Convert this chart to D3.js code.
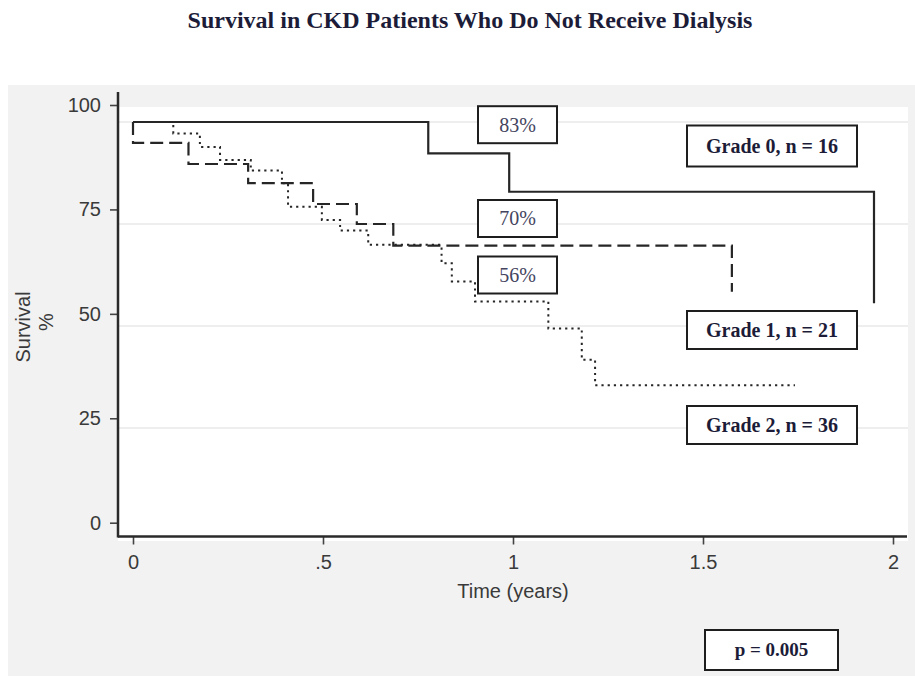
<!DOCTYPE html>
<html>
<head>
<meta charset="utf-8">
<script src="https://cdn.jsdelivr.net/npm/d3@7"></script>
<style>
  html, body { margin: 0; padding: 0; background: #ffffff; }
  svg { display: block; }
</style>
</head>
<body>
<svg id="chart" width="915" height="677"></svg>
<script>
// Kaplan–Meier step data: event times (years) and survival (%)
const grade0Time = [0, 0.777, 0.990, 1.950];
const grade0Surv = [100, 92.3, 82.9, 55.6];

const grade1Time = [0, 0, 0.146, 0.303, 0.474, 0.589, 0.685, 1.576];
const grade1Surv = [100, 94.9, 89.7, 85.0, 79.9, 75.0, 69.7, 58.4];

const grade2Time = [0, 0.106, 0.176, 0.229, 0.310, 0.392, 0.408, 0.497, 0.545,
                    0.619, 0.812, 0.839, 0.900, 1.093, 1.181, 1.216, 1.742];
const grade2Surv = [100, 97.2, 93.9, 90.7, 88.1, 85.0, 79.2, 76.0, 73.4,
                    69.9, 65.4, 60.9, 56.0, 49.4, 41.7, 35.5, 35.5];

const groupNames = ["Grade 0", "Grade 1", "Grade 2"];
const groupN = [16, 21, 36];

const xTicks = [0, 0.5, 1, 1.5, 2];
const xTickLabels = ["0", ".5", "1", "1.5", "2"];
const yTicks = [0, 25, 50, 75, 100];
const gridValues = [25, 50, 75, 100];

const titleText = "Survival in CKD Patients Who Do Not Receive Dialysis";
const xTitle = "Time (years)";
const yTitleLines = ["Survival", "%"];
const pValue = "0.005";
const landmarkYear = 1;

// ---- layout ----
const svg = d3.select("#chart");
const SERIF = "'Liberation Serif', 'Times New Roman', serif";
const SANS = "'Liberation Sans', Arial, sans-serif";

const x = d3.scaleLinear().domain([0, 2]).range([133, 893]);
// curves and grid
const y = d3.scaleLinear().domain([0, 100]).range([530, 122]);
// labelled axis
const yAxisScale = d3.scaleLinear().domain([0, 100]).range([522.7, 105]);

const plotLeft = 118, plotRight = 908, plotTop = 107, axisY = 536.5;

// graph region and plot region backgrounds
svg.append("rect").attr("x", 8).attr("y", 85).attr("width", 907).attr("height", 591)
  .attr("fill", "#f2f2f2");
svg.append("rect").attr("x", plotLeft).attr("y", plotTop)
  .attr("width", plotRight - plotLeft).attr("height", 541 - plotTop)
  .attr("fill", "#ffffff");

// title
svg.append("text")
  .attr("x", 470).attr("y", 28)
  .attr("text-anchor", "middle")
  .attr("font-family", SERIF).attr("font-weight", "bold").attr("font-size", 24)
  .attr("fill", "#1c1c38")
  .text(titleText);

// horizontal grid lines
svg.append("g").selectAll("line").data(gridValues).join("line")
  .attr("x1", plotLeft).attr("x2", plotRight)
  .attr("y1", d => y(d)).attr("y2", d => y(d))
  .attr("stroke", "#e9e9e9").attr("stroke-width", 1.5);

// y axis
const yAxisG = svg.append("g").attr("transform", `translate(${plotLeft},0)`)
  .call(d3.axisLeft(yAxisScale).tickValues(yTicks).tickSize(8).tickPadding(9)
    .tickFormat(d3.format("d")));
yAxisG.select(".domain").remove();
yAxisG.selectAll(".tick line").attr("stroke", "#444").attr("stroke-width", 1.6);
yAxisG.selectAll(".tick text")
  .attr("font-family", SANS).attr("font-size", 20).attr("fill", "#3a3a3a");

// x axis
const xAxisG = svg.append("g").attr("transform", `translate(0,${axisY})`)
  .call(d3.axisBottom(x).tickValues(xTicks).tickSize(8).tickPadding(10)
    .tickFormat((d, i) => xTickLabels[i]));
xAxisG.select(".domain").remove();
xAxisG.selectAll(".tick line").attr("stroke", "#444").attr("stroke-width", 1.6);
xAxisG.selectAll(".tick text")
  .attr("font-family", SANS).attr("font-size", 20).attr("fill", "#3a3a3a");

// axis lines
svg.append("line").attr("x1", plotLeft).attr("x2", plotLeft)
  .attr("y1", 92).attr("y2", axisY + 1)
  .attr("stroke", "#2a2a2a").attr("stroke-width", 2.5);
svg.append("line").attr("x1", plotLeft).attr("x2", 907)
  .attr("y1", axisY).attr("y2", axisY)
  .attr("stroke", "#2a2a2a").attr("stroke-width", 2.5);

// axis titles
svg.append("text")
  .attr("x", 513).attr("y", 598)
  .attr("text-anchor", "middle")
  .attr("font-family", SANS).attr("font-size", 20).attr("fill", "#3a3a3a")
  .text(xTitle);

const yTitle = svg.append("g");
yTitle.append("text")
  .attr("transform", "translate(30,327) rotate(-90)")
  .attr("text-anchor", "middle")
  .attr("font-family", SANS).attr("font-size", 20).attr("fill", "#3a3a3a")
  .text(yTitleLines[0]);
yTitle.append("text")
  .attr("transform", "translate(53,322) rotate(-90)")
  .attr("text-anchor", "middle")
  .attr("font-family", SANS).attr("font-size", 20).attr("fill", "#3a3a3a")
  .text(yTitleLines[1]);

// survival curves
const stepLine = d3.line()
  .x(d => x(d[0])).y(d => y(d[1]))
  .curve(d3.curveStepAfter);

const series = [
  { time: grade0Time, surv: grade0Surv, dash: null, width: 2.2 },
  { time: grade1Time, surv: grade1Surv, dash: "13,6", width: 2.2 },
  { time: grade2Time, surv: grade2Surv, dash: "2.2,4", width: 2 }
];

svg.append("g").selectAll("path").data(series).join("path")
  .attr("d", s => stepLine(s.time.map((t, i) => [t, s.surv[i]])))
  .attr("fill", "none")
  .attr("stroke", "#262626")
  .attr("stroke-width", s => s.width)
  .attr("stroke-dasharray", s => s.dash);

// survival at the landmark year from the step function
function survivalAt(times, survs, t) {
  let v = survs[0];
  for (let i = 0; i < times.length; i++) if (times[i] <= t) v = survs[i];
  return v;
}

function box(cx, cy, w, h, label, opts) {
  const g = svg.append("g");
  g.append("rect")
    .attr("x", cx - w / 2).attr("y", cy - h / 2)
    .attr("width", w).attr("height", h)
    .attr("fill", "#ffffff").attr("stroke", "#1e1e1e").attr("stroke-width", 2);
  g.append("text")
    .attr("x", cx).attr("y", cy).attr("dy", "0.34em")
    .attr("text-anchor", "middle")
    .attr("font-family", SERIF)
    .attr("font-weight", opts.bold ? "bold" : "normal")
    .attr("font-size", opts.size)
    .attr("fill", opts.color)
    .text(label);
}

// landmark percentage boxes
const pctFormat = v => d3.format(".0f")(v) + "%";
const pctBoxes = [
  { time: grade0Time, surv: grade0Surv, cy: 124.7 },
  { time: grade1Time, surv: grade1Surv, cy: 218.5 },
  { time: grade2Time, surv: grade2Surv, cy: 275 }
];
pctBoxes.forEach(b => {
  box(517.5, b.cy, 79, 37,
      pctFormat(survivalAt(b.time, b.surv, landmarkYear)),
      { bold: false, size: 20, color: "#44445e" });
});

// group boxes
const groupBoxCy = [146, 330, 425];
const groupBoxH = [41, 38, 38];
groupNames.forEach((name, i) => {
  box(772, groupBoxCy[i], 170, groupBoxH[i], `${name}, n = ${groupN[i]}`,
      { bold: true, size: 20, color: "#1c1c38" });
});

// log-rank p value
box(771.5, 650, 133, 40, `p = ${pValue}`, { bold: true, size: 19, color: "#1c1c38" });
</script>
</body>
</html>
